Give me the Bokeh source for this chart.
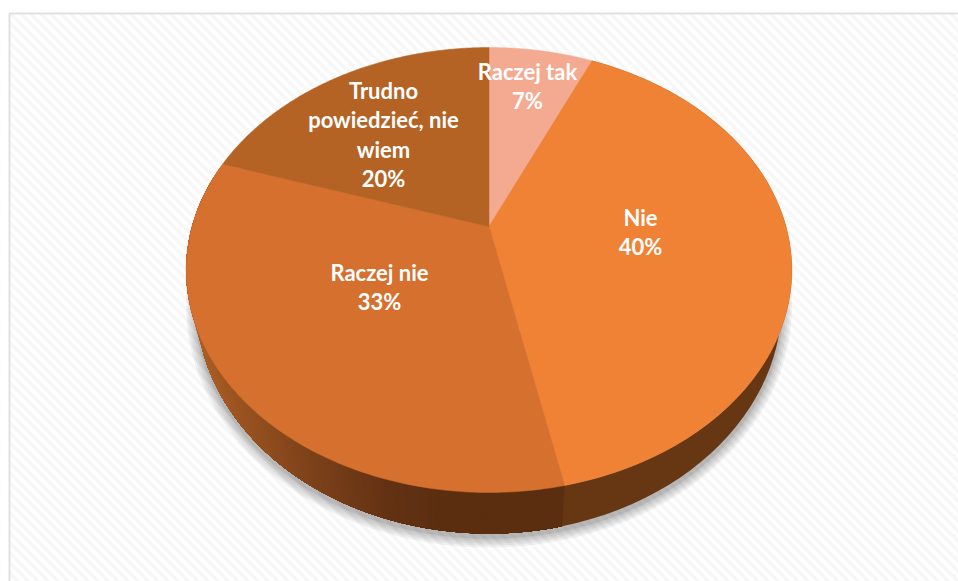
import numpy as np
from bokeh.embed import file_html
from bokeh.models import Range1d
from bokeh.plotting import figure
from bokeh.resources import INLINE
from bokeh.core.properties import value

# Data
categories = ["Raczej tak", "Nie", "Raczej nie", "Trudno powiedzieć, nie wiem"]
values = [6.7, 40.0, 33.3, 20.0]
label_lines = [["Raczej tak"], ["Nie"], ["Raczej nie"], ["Trudno", "powiedzieć, nie", "wiem"]]

# Styles
top_colors = ["#f3aa90", "#ef8235", "#d5702e", "#b46324"]
wall_nie = "#673714"
grad_x = [195, 231, 298, 378, 437, 570]
grad_rgb = [(0xaa, 0x5e, 0x25), (0x9a, 0x53, 0x20), (0x7f, 0x43, 0x1a),
            (0x64, 0x32, 0x13), (0x5b, 0x2e, 0x10), (0x5b, 0x2e, 0x10)]
label_anchor = [(527, 71), (640, 217), (379, 272), (383, 90)]
LINE = 29.3

# Perspective of the pie, in page pixels
CX, CY, A, B, K = 488.5, 226.0, 297.0, 214.0, 0.1955
TOP_EL = (269.5, 303.0, 222.5)
LOW_EL = (302.0, 293.0, 231.0)


def rim(theta):
    X, Y = np.sin(theta), np.cos(theta)
    w = 1 + K * Y
    return CX + A * X / w, CY - B * Y / w


def low_rim(theta):
    x, y = rim(theta)
    u, v = (x - CX) / TOP_EL[1], (y - TOP_EL[0]) / TOP_EL[2]
    return CX + LOW_EL[1] * u, LOW_EL[0] + LOW_EL[2] * v


def wall_poly(t0, t1, n=60):
    t = np.linspace(t0, t1, n)
    x, y = rim(t)
    lx, ly = low_rim(t[::-1])
    return np.r_[x, lx].tolist(), np.r_[y, ly].tolist()


p = figure(width=958, height=581, output_backend="svg", toolbar_location=None,
           x_range=Range1d(0, 958), y_range=Range1d(581, 0), min_border=0,
           outline_line_color=None, background_fill_color="#ffffff",
           border_fill_color="#ffffff")
p.axis.visible = False
p.grid.visible = False

# Hatched chart area and its frame
offs = np.arange(-600, 960, 10.0)
p.multi_line([[o, o + 600] for o in offs], [[13, 613] for _ in offs],
             line_color="#f7f7f7", line_width=3.5)
p.quad(left=[0], right=[958], top=[0], bottom=[13], fill_color="#ffffff", line_color=None)
p.quad(left=[0], right=[9], top=[0], bottom=[581], fill_color="#ffffff", line_color=None)
p.multi_line([[9, 9, 958]], [[581, 13, 13]], line_color="#e1e1e1", line_width=2)

# Soft shadow
t_all = np.linspace(0, 2 * np.pi, 240)
for grow in [10, 8, 6, 4, 2, 1]:
    p.patch(CX + (LOW_EL[1] + grow) * np.sin(t_all),
            LOW_EL[0] + 4 + (LOW_EL[2] + grow) * np.cos(t_all),
            fill_color="#000000", fill_alpha=0.05, line_color=None)

# Wall: painted from the far left end inwards, each band overlapping the next
fracs = np.cumsum([0] + values) / 100.0
angles = 2 * np.pi * fracs
xs, ys, cols = [], [], []
edges = np.linspace(angles[3], angles[2], 200)
for t0 in edges[:-1]:
    wx, wy = wall_poly(angles[2], t0)
    xm = float(rim(t0)[0]) - 3
    rgb = [np.interp(xm, grad_x, [c[i] for c in grad_rgb]) for i in range(3)]
    xs.append(wx)
    ys.append(wy)
    cols.append("#%02x%02x%02x" % tuple(int(round(v)) for v in rgb))
p.patches(xs, ys, fill_color=cols, line_color=None)
wx, wy = wall_poly(angles[1], angles[2])
p.patch(wx, wy, fill_color=wall_nie, line_color=None)

# Top face slices
for i, col in enumerate(top_colors):
    t = np.linspace(angles[i], angles[i + 1], 120)
    x, y = rim(t)
    p.patch(np.r_[CX, x], np.r_[CY, y], fill_color=col, line_color=col, line_width=0.5)

# Labels
lx, ly, lt = [], [], []
for lines, val, (ax, ay) in zip(label_lines, values, label_anchor):
    rows = lines + ["%d%%" % round(val)]
    for j, s in enumerate(rows):
        lx.append(ax)
        ly.append(ay + j * LINE)
        lt.append(s)
p.text(lx, ly, text=lt, text_color="#ffffff", text_font=value("Lato"), text_font_style="bold",
       text_font_size="22px", text_align="center", text_baseline="middle")

open("out.html", "w").write(file_html(p, INLINE))
